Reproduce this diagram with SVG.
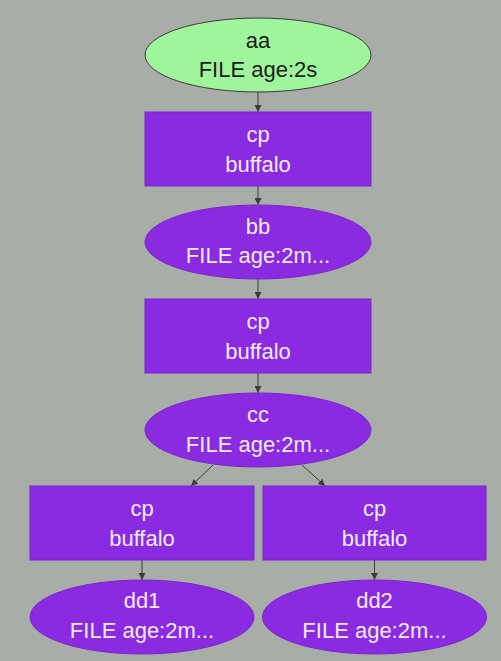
<svg xmlns="http://www.w3.org/2000/svg" width="501" height="661" viewBox="0 0 501 661">
<defs>
<style>
.bg{fill:#a9ada7}
.file{fill:#8a2be2;stroke:#7c24cc;stroke-width:1}
.src{fill:#9ff59c;stroke:#3a3a3a;stroke-width:1}
.proc{fill:#8a2be2;stroke:#7c24cc;stroke-width:1}
text{font-family:"Liberation Sans",Arial,sans-serif;font-size:22px;text-anchor:middle}
.lt{fill:#f2eafa}
.dk{fill:#1c1c1c}
.edge{stroke:#3c3c3c;stroke-width:1;fill:none;marker-end:url(#ah)}
</style>
<marker id="ah" viewBox="0 0 10 10" refX="10" refY="5" markerWidth="7" markerHeight="7" markerUnits="userSpaceOnUse" orient="auto">
<path d="M0,0 L10,5 L0,10 z" fill="#3c3c3c"/>
</marker>
</defs>
<rect class="bg" x="0" y="0" width="501" height="661"/>
<g id="edges">
<line class="edge" x1="258" y1="92" x2="258" y2="112"/>
<line class="edge" x1="258" y1="186" x2="258" y2="205"/>
<line class="edge" x1="258" y1="279" x2="258" y2="299"/>
<line class="edge" x1="258" y1="373" x2="258" y2="393"/>
<line class="edge" x1="213" y1="465" x2="191" y2="486"/>
<line class="edge" x1="302" y1="465" x2="325" y2="486"/>
<line class="edge" x1="142" y1="560" x2="142" y2="580"/>
<line class="edge" x1="374.5" y1="560" x2="374.5" y2="580"/>
</g>
<g id="aa">
<ellipse class="src" cx="258" cy="55" rx="113" ry="37"/>
<text class="dk" x="258" y="48">aa</text>
<text class="dk" x="258" y="77">FILE age:2s</text>
</g>
<g id="cp1">
<rect class="proc" x="145" y="112" width="226" height="74"/>
<text class="lt" x="258" y="142">cp</text>
<text class="lt" x="258" y="172">buffalo</text>
</g>
<g id="bb">
<ellipse class="file" cx="258" cy="242" rx="113" ry="37"/>
<text class="lt" x="258" y="234">bb</text>
<text class="lt" x="258" y="263">FILE age:2m...</text>
</g>
<g id="cp2">
<rect class="proc" x="145" y="299" width="226" height="74"/>
<text class="lt" x="258" y="329">cp</text>
<text class="lt" x="258" y="359">buffalo</text>
</g>
<g id="cc">
<ellipse class="file" cx="258" cy="430" rx="113" ry="37"/>
<text class="lt" x="258" y="422">cc</text>
<text class="lt" x="258" y="452">FILE age:2m...</text>
</g>
<g id="cp3">
<rect class="proc" x="30" y="486" width="224" height="74"/>
<text class="lt" x="142" y="516">cp</text>
<text class="lt" x="142" y="546">buffalo</text>
</g>
<g id="cp4">
<rect class="proc" x="263" y="486" width="223" height="74"/>
<text class="lt" x="374.5" y="516">cp</text>
<text class="lt" x="374.5" y="546">buffalo</text>
</g>
<g id="dd1">
<ellipse class="file" cx="142" cy="617" rx="112" ry="37"/>
<text class="lt" x="142" y="608">dd1</text>
<text class="lt" x="142" y="638">FILE age:2m...</text>
</g>
<g id="dd2">
<ellipse class="file" cx="374.5" cy="617" rx="112" ry="37"/>
<text class="lt" x="374.5" y="608">dd2</text>
<text class="lt" x="374.5" y="638">FILE age:2m...</text>
</g>
</svg>
